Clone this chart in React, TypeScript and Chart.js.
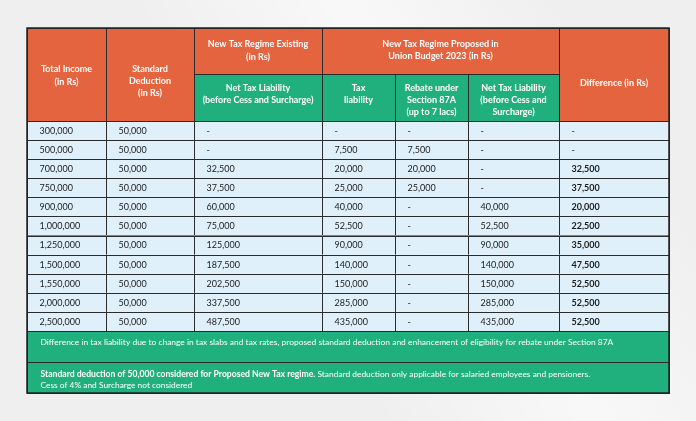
import React, { useEffect, useRef } from "react";
import { Chart, registerables } from "chart.js";

Chart.register(...registerables);

// ---- data ----
const totalIncome = [300000, 500000, 700000, 750000, 900000, 1000000, 1250000, 1500000, 1550000, 2000000, 2500000];
const standardDeduction = [50000, 50000, 50000, 50000, 50000, 50000, 50000, 50000, 50000, 50000, 50000];
const existingNetTax = [null, null, 32500, 37500, 60000, 75000, 125000, 187500, 202500, 337500, 487500];
const proposedTax = [null, 7500, 20000, 25000, 40000, 52500, 90000, 140000, 150000, 285000, 435000];
const rebate87A = [null, 7500, 20000, 25000, null, null, null, null, null, null, null];
const proposedNetTax = [null, null, null, null, 40000, 52500, 90000, 140000, 150000, 285000, 435000];
const difference = [null, null, 32500, 37500, 20000, 22500, 35000, 47500, 52500, 52500, 52500];

const headerTotalIncome = ["Total Income", "(in Rs)"];
const headerStdDeduction = ["Standard", "Deduction", "(in Rs)"];
const headerExisting = ["New Tax Regime Existing", "(in Rs)"];
const headerExistingNet = ["Net Tax Liability", "(before Cess and Surcharge)"];
const headerProposed = ["New Tax Regime Proposed in", "Union Budget 2023 (in Rs)"];
const headerTaxLiability = ["Tax", "liability"];
const headerRebate = ["Rebate under", "Section 87A", "(up to 7 lacs)"];
const headerProposedNet = ["Net Tax Liability", "(before Cess and", "Surcharge)"];
const headerDifference = ["Difference (in Rs)"];

const footnote1 =
  "Difference in tax liability due to change in tax slabs and tax rates, proposed standard deduction and enhancement of eligibility for rebate under Section 87A";
const footnote2Bold = "Standard deduction of 50,000 considered for Proposed New Tax regime.";
const footnote2Rest = " Standard deduction only applicable for salaried employees and pensioners.";
const footnote2Line2 = "Cess of 4% and Surcharge not considered";

// ---- layout / style ----
const COL_EDGES = [0, 79, 167, 295, 368, 441, 532, 642];
const HEADER_MID = 46;
const HEADER_BOTTOM = 93;
const ROW_H = 19.09;
const FOOT1_BOTTOM = 334;
const TABLE_H = 365;
const ORANGE = "#e4643f";
const GREEN = "#1fb07d";
const CELL_BG = "#dff0fb";
const LINE = "#2b2b2b";
const FONT = "Lato, 'Open Sans', sans-serif";

const fmt = (v: number | null) => (v === null ? "-" : v.toLocaleString("en-US"));

const tablePlugin = {
  id: "tablePlugin",
  beforeDraw(chart: any) {
    const { ctx, width, height } = chart;
    ctx.save();
    ctx.fillStyle = "#efefef";
    ctx.fillRect(0, 0, width, height);
    const g = ctx.createLinearGradient(width * 0.55, height, width, height * 0.55);
    g.addColorStop(0, "rgba(255,255,255,0)");
    g.addColorStop(0.5, "rgba(255,255,255,0.6)");
    g.addColorStop(1, "rgba(255,255,255,0)");
    ctx.fillStyle = g;
    ctx.fillRect(0, 0, width, height);
    ctx.restore();
  },
  afterDatasetsDraw(chart: any) {
    const { ctx } = chart;
    const xs = chart.scales.x;
    const ys = chart.scales.y;
    const X = (v: number) => xs.getPixelForValue(v);
    const Y = (v: number) => ys.getPixelForValue(v);

    const rect = (x0: number, x1: number, y0: number, y1: number, fill: string) => {
      ctx.fillStyle = fill;
      ctx.fillRect(X(x0), Y(y0), X(x1) - X(x0), Y(y1) - Y(y0));
      ctx.strokeStyle = LINE;
      ctx.lineWidth = 1;
      ctx.strokeRect(Math.round(X(x0)) + 0.5, Math.round(Y(y0)) + 0.5, Math.round(X(x1) - X(x0)), Math.round(Y(y1) - Y(y0)));
    };
    const textLines = (lines: string[], cx: number, ysLines: number[], bold: boolean) => {
      ctx.fillStyle = "#ffffff";
      ctx.font = `${bold ? "bold " : ""}9px ${FONT}`;
      ctx.textAlign = "center";
      ctx.textBaseline = "middle";
      lines.forEach((l, i) => ctx.fillText(l, X(cx), Y(ysLines[i])));
    };

    ctx.save();
    const C = COL_EDGES;
    const mid = (a: number, b: number) => (a + b) / 2;

    // header
    rect(C[0], C[1], 0, HEADER_BOTTOM, ORANGE);
    rect(C[1], C[2], 0, HEADER_BOTTOM, ORANGE);
    rect(C[2], C[3], 0, HEADER_MID, ORANGE);
    rect(C[3], C[6], 0, HEADER_MID, ORANGE);
    rect(C[6], C[7], 0, HEADER_BOTTOM, ORANGE);
    rect(C[2], C[3], HEADER_MID, HEADER_BOTTOM, GREEN);
    rect(C[3], C[4], HEADER_MID, HEADER_BOTTOM, GREEN);
    rect(C[4], C[5], HEADER_MID, HEADER_BOTTOM, GREEN);
    rect(C[5], C[6], HEADER_MID, HEADER_BOTTOM, GREEN);

    textLines(headerTotalIncome, mid(C[0], C[1]), [41, 54], true);
    textLines(headerStdDeduction, mid(C[1], C[2]), [41, 53, 65], true);
    textLines(headerExisting, mid(C[2], C[3]), [16.5, 29.5], true);
    textLines(headerExistingNet, mid(C[2], C[3]), [60.5, 72], true);
    textLines(headerProposed, mid(C[3], C[6]), [16.5, 28], true);
    textLines(headerTaxLiability, mid(C[3], C[4]), [60.5, 72], true);
    textLines(headerRebate, mid(C[4], C[5]), [60.5, 72, 84], true);
    textLines(headerProposedNet, mid(C[5], C[6]), [60.5, 72, 84], true);
    textLines(headerDifference, mid(C[6], C[7]), [55.5], true);

    // body
    const cols = [totalIncome, standardDeduction, existingNetTax, proposedTax, rebate87A, proposedNetTax, difference];
    totalIncome.forEach((_, r) => {
      const y0 = HEADER_BOTTOM + r * ROW_H;
      const y1 = y0 + ROW_H;
      cols.forEach((col, c) => {
        rect(C[c], C[c + 1], y0, y1, CELL_BG);
        ctx.fillStyle = "#1c1c1c";
        const bold = c === 6 && col[r] !== null;
        ctx.font = `${bold ? "bold " : ""}9px ${FONT}`;
        ctx.textAlign = "left";
        ctx.textBaseline = "middle";
        ctx.fillText(fmt(col[r] as number | null), X(C[c]) + 12.5, Y(mid(y0, y1)) + 0.5);
      });
    });

    // footnotes
    const bodyBottom = HEADER_BOTTOM + totalIncome.length * ROW_H;
    rect(C[0], C[7], bodyBottom, FOOT1_BOTTOM, GREEN);
    rect(C[0], C[7], FOOT1_BOTTOM, TABLE_H, GREEN);
    ctx.fillStyle = "#ffffff";
    ctx.textAlign = "left";
    ctx.textBaseline = "middle";
    ctx.font = `8.45px ${FONT}`;
    ctx.fillText(footnote1, X(0) + 13.5, Y(bodyBottom + 11.7));
    ctx.font = `bold 8.6px ${FONT}`;
    ctx.fillText(footnote2Bold, X(0) + 13.5, Y(FOOT1_BOTTOM + 12.7));
    const w = ctx.measureText(footnote2Bold).width;
    ctx.font = `8.4px ${FONT}`;
    ctx.fillText(footnote2Rest, X(0) + 13.5 + w, Y(FOOT1_BOTTOM + 12.7));
    ctx.fillText(footnote2Line2, X(0) + 13.5, Y(FOOT1_BOTTOM + 23));

    // outer border
    ctx.strokeStyle = "#222";
    ctx.lineWidth = 1.5;
    ctx.strokeRect(X(0), Y(0), X(642) - X(0), Y(TABLE_H) - Y(0));
    ctx.restore();
  },
};

export default function App() {
  const ref = useRef<HTMLCanvasElement | null>(null);
  useEffect(() => {
    document.body.style.margin = "0";
    if (!ref.current) return;
    const chart = new Chart(ref.current, {
      type: "scatter",
      data: { datasets: [{ data: [], pointRadius: 0 }] },
      options: {
        responsive: false,
        animation: false,
        layout: { padding: { left: 27, right: 27, top: 28, bottom: 28 } },
        plugins: { legend: { display: false }, tooltip: { enabled: false } },
        scales: {
          x: { type: "linear", min: 0, max: 642, display: false },
          y: { type: "linear", min: 0, max: TABLE_H, reverse: true, display: false },
        },
      },
      plugins: [tablePlugin],
    });
    return () => chart.destroy();
  }, []);
  return (
    <div style={{ position: "absolute", left: 0, top: 0, width: 696, height: 421 }}>
      <canvas ref={ref} width={696} height={421} style={{ width: 696, height: 421 }} />
    </div>
  );
}
